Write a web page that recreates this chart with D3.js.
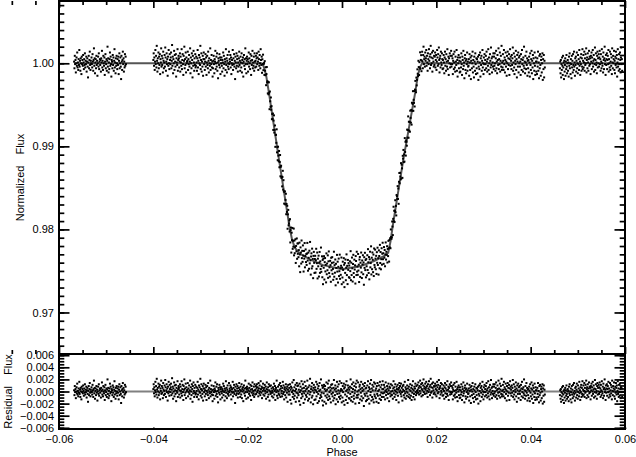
<!DOCTYPE html>
<html><head><meta charset="utf-8">
<script src="https://cdn.jsdelivr.net/npm/d3@7"></script>
<style>
body{margin:0;background:#fff}
svg{display:block}
text{font-family:"Liberation Sans",Arial,Helvetica,sans-serif;fill:#000}
</style>
</head><body>
<svg id="c" width="636" height="457"></svg>
<script>
// ---- data ----
// observed phase windows of the three data blocks
const segStart = [-0.0568, -0.0400, 0.0462];
const segEnd   = [-0.0458,  0.0430, 0.0594];
// residuals of each block, in units of 1e-4 (in phase order)
const residSeg1 = [2,-6,9,-1,4,-11,0,7,-3,13,-5,1,-8,5,-2,16,-4,3,-9,6,0,-13,8,-1,4,
-3,10,1,-7,5,-2,12,-5,3,-1,8,-10,2,6,-4,-17,1,9,-6,4,14,-2,-8,3,0,
7,-1,-5,11,2,-9,4,18,-3,6,-12,1,5,-6,9,-2,3,-15,0,8,-4,12,-7,2,5,
-2,4,-10,6,1,15,-5,3,-8,9,0,-3,7,-14,2,11,-6,-1,5,-9,3,20,-4,6,-11,
1,-7,5,13,-3,8,-1,-16,4,2,-6,10,-2,7,-9,3,17,-5,1,-12,6,-3,9,0,-7,
5,-2,8,-13,3,12,-6,0,7,-4,-19,9,2,-8,4,14,-1,6,-10,2,-5,11,-3,8,-1];
const residSeg2 = [4,12,-3,7,-8,2,16,-1,9,-5,21,3,-10,6,0,13,-6,8,-2,11,-13,5,1,18,-4,
9,-2,6,-11,14,3,-6,1,10,-4,19,7,-9,2,12,-1,5,-15,8,-3,16,0,-7,11,4,
-1,7,13,-6,3,22,-3,8,-12,5,0,15,-8,10,2,-4,11,-16,6,1,-2,17,-9,4,9,
6,-5,2,12,-10,8,1,-3,17,-7,4,11,-1,-14,9,3,20,-6,5,-2,13,-11,7,0,2,
3,14,-8,5,-1,10,-4,2,18,-12,7,0,-6,12,4,-17,9,-3,15,1,-9,6,-2,11,-5,
-3,8,1,-9,6,16,-5,3,-13,10,0,7,-2,21,-7,4,12,-10,2,-4,9,-15,5,13,-1,
5,-8,2,11,-4,7,-14,1,9,-2,-6,14,3,-11,6,0,-3,18,-8,4,-1,10,-5,2,-16,
-6,3,9,-1,-12,5,2,15,-7,0,8,-4,12,-9,1,-18,6,3,-2,11,-5,7,-13,4,0,
7,-3,-10,4,1,13,-6,9,-1,-15,5,2,-8,17,-2,6,-11,3,10,-4,0,-7,14,-1,5,
2,10,-5,7,-13,0,4,-2,16,-8,6,-1,11,-4,3,-19,8,1,-6,12,-3,5,9,-10,1,
-4,6,14,-2,3,-9,8,1,-5,12,-11,4,0,7,-16,2,10,-3,5,-7,18,-1,6,-12,3,
8,-1,5,-10,2,13,-4,6,0,-7,11,3,-14,9,-2,4,15,-6,1,-3,8,-9,12,2,-5,
3,9,-4,6,12,-1,7,2,-8,14,5,-3,10,0,-6,17,4,-2,8,-11,6,1,13,-5,3,
6,-7,11,1,-3,8,-12,4,15,-1,3,-9,7,-5,12,2,-15,9,0,-4,10,-2,5,-8,1,
-2,7,-10,4,13,-5,1,9,-14,3,6,-1,18,-7,2,-11,8,0,-4,11,-6,3,14,-9,5,
9,-3,1,-8,6,16,-4,10,-1,-13,4,7,-6,2,12,-10,5,-2,8,-17,3,11,-5,0,6,
-5,12,-14,3,8,-20,6,-1,15,-9,2,-4,19,-12,7,-7,1,11,-17,4,-2,14,-10,9,-3,
10,-6,3,-16,13,-1,-22,8,2,-11,17,-4,5,-8,12,0,-19,6,-3,16,-13,1,9,-6,4,
-9,5,18,-3,-15,7,1,-12,10,-5,21,-1,-18,4,8,-10,14,-7,2,-21,6,11,-2,-14,3,
7,-13,2,16,-8,-1,12,-19,5,-4,9,-16,1,14,-11,3,-6,20,-9,-2,10,-15,6,-23,8,
-3,11,-17,4,9,-7,1,-20,15,-10,3,-5,13,-14,6,18,-8,-1,-12,7,2,-18,11,-4,5,
12,-8,-2,-15,6,19,-11,3,-6,10,-21,5,0,-13,16,-4,8,-17,2,12,-9,-3,17,-12,1,
-7,4,14,-18,2,-10,9,-1,-16,13,5,-22,7,-5,11,-14,1,17,-8,3,-19,10,-2,6,-11,
3,-12,8,-4,20,-15,6,-9,12,-1,-17,4,15,-7,-12,9,-3,2,-20,13,7,-10,18,-6,0,
-10,15,-5,2,-19,8,11,-13,4,-2,16,-8,-15,6,1,12,-11,3,-24,9,-4,14,-7,5,-16,
6,-3,-14,10,-8,17,1,-12,7,-20,4,13,-6,-1,19,-15,5,-9,11,2,-13,8,-18,15,-5,
-8,13,2,-11,5,-17,9,-4,14,-7,1,-19,10,3,-12,16,-6,7,-14,-2,11,-9,4,17,-3,
4,-9,11,-2,7,-13,1,15,-6,3,-1,9,-11,5,-4,13,2,-16,8,-3,6,-8,12,0,-5,
-6,10,1,-12,5,17,-3,7,-9,2,12,-5,0,-14,8,4,-2,11,-7,3,-18,6,14,-1,9,
2,-4,13,-8,6,-1,-15,9,3,11,-6,1,-10,16,-3,7,-12,4,0,-7,10,-2,5,19,-9,
8,-5,3,-11,12,1,-7,6,-14,10,-2,4,17,-9,2,-4,8,-13,5,13,-1,-6,9,-3,1,
11,3,-2,15,6,-5,9,1,18,-3,7,12,-8,4,14,2,-6,10,20,-1,5,8,-4,13,3,
6,16,-3,9,1,-9,12,5,-1,17,3,8,-6,11,21,-2,7,0,13,-10,6,15,2,-4,9,
-2,8,13,-5,4,10,-8,2,16,7,-3,11,-1,19,4,-11,6,9,-5,14,1,-2,12,5,-7,
4,-6,10,1,-12,7,14,-3,5,-9,11,2,-4,17,-7,3,8,-14,6,0,12,-5,9,-1,15,
-4,9,-1,6,-13,3,11,-7,1,14,-5,-10,8,2,-2,16,-9,4,-16,7,0,10,-6,3,-11,
7,-10,2,-5,12,-1,-14,8,4,-7,15,-3,1,-18,6,10,-8,3,-12,5,-1,13,-9,2,-4,
-3,5,-15,11,1,-8,7,-19,3,9,-6,0,14,-11,4,-4,-17,8,2,-9,12,-1,-13,6,-6,
5,-12,2,8,-20,-4,10,-7,1,13,-16,6,-2,9,-9,3,16,-5,0,-13,7,-1,11,-8,4,
-1,9,-6,14,2,-10,5,-3,17,-8,7,0,-13,11,3,-5,19,-2,6,-11,8,1,-4,12,-7,
8,-3,12,0,-9,6,15,-6,2,-12,10,4,-2,18,-7,5,-1,13,-10,3,9,-4,21,-8,1,
-5,11,3,-8,16,-1,7,-11,4,13,-4,2,-15,9,0,14,-7,6,-2,11,-14,5,17,-3,8,
3,-7,10,-2,6,19,-9,1,12,-5,-13,8,3,-1,15,-8,5,-17,10,2,-4,13,-11,7,0,
9,-4,2,-14,11,5,-8,16,-1,4,-10,7,-3,20,-6,2,-12,9,1,-7,14,-2,6,-15,3,
-6,4,-11,8,1,-16,12,-2,-8,5,15,-12,3,-5,10,-19,6,0,-9,13,-3,-14,7,2,-10,
2,-13,6,-4,14,-9,1,-18,9,-6,11,-2,-15,4,8,-11,0,12,-20,5,-7,10,-17,3,-5];
const residSeg3 = [-6,2,-12,4,-17,-1,-8,7,-3,-14,9,-5,1,-19,3,-10,-2,6,-15,2,-7,10,-4,-12,0,
4,-9,1,-16,8,-3,12,-6,0,-13,5,-1,-18,9,-5,3,-11,11,-2,-8,14,-4,1,-15,6,
-2,8,-10,3,13,-6,0,-12,10,-1,5,-8,16,-3,2,-14,7,-1,11,-9,6,-4,17,-7,3,
10,-5,1,14,-9,6,-2,11,0,18,-11,4,7,-6,12,1,-9,5,15,-3,8,-1,6,-13,9,
2,13,-7,7,0,16,-4,3,10,-10,5,-1,19,-8,4,12,-2,1,-12,9,14,-5,6,0,11,
-4,7,15,-1,5,-9,11,2,-6,17,0,-3,8,-11,13,4,-7,6,20,-1,3,-14,10,-2,5,
12,-7,4,9,-1,16,-10,5,0,-5,14,-8,2,11,-3,7,-13,18,1,-6,9,0,5,15,-8,
3,-12,8,-2,14,6,-5,10,-16,1,17,-4,5,-9,11,-1,-7,13,4,-11,7,19,-1,5,-9];
// transit model curve (phase, normalized flux)
const modelPhase = [-0.0568,-0.0170,-0.0166,-0.0161,-0.01548,-0.01336,-0.01116,-0.0106,-0.0100,-0.0090,-0.0068,-0.0040,0.0000,0.0040,0.0068,0.0090,0.0098,0.0103,0.01075,0.0130,0.0155,0.0161,0.0166,0.0170,0.0600];
const modelFlux  = [1.0000,1.0000,0.9996,0.9986,0.9964,0.9884,0.9804,0.9788,0.9778,0.9771,0.9764,0.9757,0.9752,0.9756,0.9762,0.9768,0.9772,0.9786,0.9804,0.9884,0.9964,0.9986,0.9996,1.0000,1.0000];
// axis ticks
const xMajor = [-0.06,-0.04,-0.02,0.00,0.02,0.04,0.06];
const yTopMajor = [0.97,0.98,0.99,1.00];
const yBotMajor = [-0.006,-0.004,-0.002,0.000,0.002,0.004,0.006];
const xLabel = "Phase", yTopLabel = "Normalized Flux", yBotLabel = "Residual Flux";

// ---- layout ----
const L = 59, R = 625, T = 1, MID = 354, B = 429;
const svg = d3.select("#c");
const x = d3.scaleLinear().domain([-0.06, 0.06]).range([L, R]);
const yTop = d3.scaleLinear().domain([0.965, 1.0075]).range([MID, T]);
const yBot = d3.scaleLinear().domain([-0.0062, 0.0062]).range([B, MID]);
const model = d3.scaleLinear().domain(modelPhase).range(modelFlux).clamp(true);

const xMinor = d3.range(-120, 121, 5).map(v => v / 1000).filter(v => xMajor.every(m => Math.abs(m - v) > 1e-9));
const yTopMinor = d3.range(965, 1008).map(v => v / 1000);
const yBotMinor = d3.range(-12, 13).map(v => v / 2000);

// points
const pts = [];
[residSeg1, residSeg2, residSeg3].forEach((res, s) => {
  const t = d3.scaleLinear().domain([0, res.length - 1]).range([segStart[s], segEnd[s]]);
  res.forEach((r, i) => { const p = t(i); pts.push({p, r: r * 1e-4, f: model(p) + r * 1e-4}); });
});

// lines
const lineTop = d3.line().x(d => x(d[0])).y(d => yTop(d[1]));
svg.append("path").attr("d", lineTop(modelPhase.map((p, i) => [p, modelFlux[i]])))
  .attr("fill", "none").attr("stroke", "#555").attr("stroke-width", 2);
const lineBot = d3.line().x(d => x(d[0])).y(d => yBot(d[1]));
svg.append("path").attr("d", lineBot([[modelPhase[0], 0], [modelPhase[modelPhase.length - 1], 0]]))
  .attr("fill", "none").attr("stroke", "#808080").attr("stroke-width", 2);

svg.append("g").selectAll("rect").data(pts).join("rect")
  .attr("x", d => x(d.p) - 1).attr("y", d => yTop(d.f) - 1).attr("width", 2).attr("height", 2).attr("fill", "#000");
svg.append("g").selectAll("rect").data(pts).join("rect")
  .attr("x", d => x(d.p) - 1).attr("y", d => yBot(d.r) - 1).attr("width", 2).attr("height", 2).attr("fill", "#000");

// axes
function styleAxis(g, labels) {
  g.select(".domain").remove();
  g.selectAll("line").attr("stroke", "#000").attr("stroke-width", 1.7);
  g.attr("font-size", 11).attr("font-family", "'Liberation Sans',Arial,sans-serif");
  if (!labels) g.selectAll("text").remove();
}
function addAxis(axisFn, scale, vals, size, tx, ty, fmt) {
  const a = axisFn(scale).tickValues(vals).tickSizeInner(size).tickSizeOuter(0).tickPadding(5);
  if (fmt) a.tickFormat(fmt); else a.tickFormat("");
  const g = svg.append("g").attr("transform", `translate(${tx},${ty})`).call(a);
  styleAxis(g, !!fmt);
  return g;
}
// top panel
addAxis(d3.axisLeft, yTop, yTopMajor, -10.5, L, 0, d3.format(".2f"));
addAxis(d3.axisLeft, yTop, yTopMinor, -5.3, L, 0);
addAxis(d3.axisRight, yTop, yTopMajor, -10.5, R, 0);
addAxis(d3.axisRight, yTop, yTopMinor, -5.3, R, 0);
addAxis(d3.axisTop, x, xMajor, -7, 0, T);
addAxis(d3.axisTop, x, xMinor, -4, 0, T);
addAxis(d3.axisBottom, x, xMajor, -7, 0, MID);
addAxis(d3.axisBottom, x, xMinor, -4, 0, MID);
// bottom panel
addAxis(d3.axisLeft, yBot, yBotMajor, -10.5, L, 0, d3.format(".3f"));
addAxis(d3.axisLeft, yBot, yBotMinor, -5.3, L, 0);
addAxis(d3.axisRight, yBot, yBotMajor, -10.5, R, 0);
addAxis(d3.axisRight, yBot, yBotMinor, -5.3, R, 0);
const gx = addAxis(d3.axisBottom, x, xMajor, -1.5, 0, B, d3.format(".2f"));
gx.selectAll("text").attr("dy", "0.71em").attr("y", 6);

// frames
[[T, MID], [MID, B]].forEach(([a, b]) => {
  svg.append("rect").attr("x", L).attr("y", a).attr("width", R - L).attr("height", b - a)
    .attr("fill", "none").attr("stroke", "#000").attr("stroke-width", 2);
});

// titles
svg.append("text").attr("transform", `translate(20,${(T + MID) / 2}) rotate(-90)`)
  .attr("text-anchor", "middle").attr("dy", "0.35em").attr("font-size", 11).attr("word-spacing", 8).text(yTopLabel);
svg.append("text").attr("transform", `translate(8,${(MID + B) / 2}) rotate(-90)`)
  .attr("text-anchor", "middle").attr("dy", "0.35em").attr("font-size", 11).attr("word-spacing", 8).text(yBotLabel);
svg.append("text").attr("x", x(0)).attr("y", 452).attr("text-anchor", "middle").attr("dy", "0.35em")
  .attr("font-size", 11).text(xLabel);
</script>
</body></html>
